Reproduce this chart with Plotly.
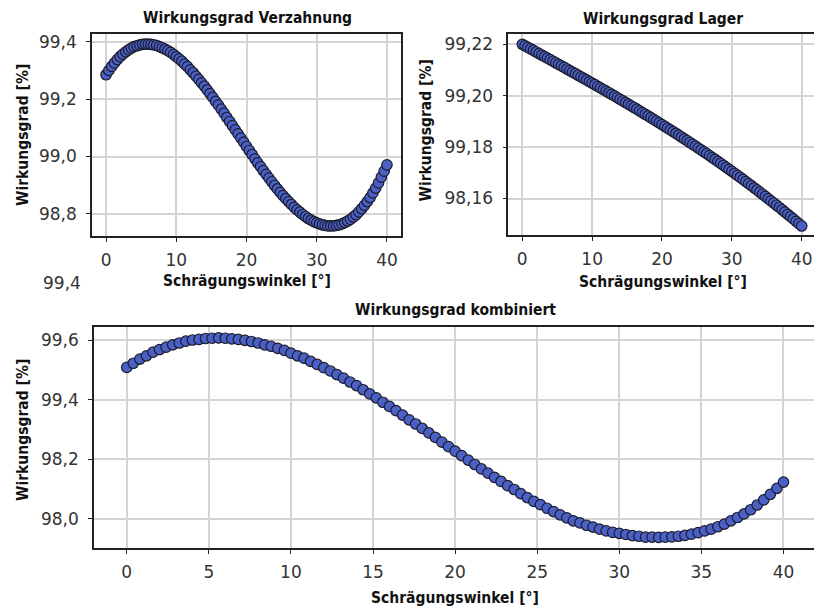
import plotly.graph_objects as go

# Schrägungswinkel [°]
winkel = [
    0.0, 0.4, 0.8, 1.2, 1.6, 2.0, 2.4, 2.8, 3.2, 3.6,
    4.0, 4.4, 4.8, 5.2, 5.6, 6.0, 6.4, 6.8, 7.2, 7.6,
    8.0, 8.4, 8.8, 9.2, 9.6, 10.0, 10.4, 10.8, 11.2, 11.6,
    12.0, 12.4, 12.8, 13.2, 13.6, 14.0, 14.4, 14.8, 15.2, 15.6,
    16.0, 16.4, 16.8, 17.2, 17.6, 18.0, 18.4, 18.8, 19.2, 19.6,
    20.0, 20.4, 20.8, 21.2, 21.6, 22.0, 22.4, 22.8, 23.2, 23.6,
    24.0, 24.4, 24.8, 25.2, 25.6, 26.0, 26.4, 26.8, 27.2, 27.6,
    28.0, 28.4, 28.8, 29.2, 29.6, 30.0, 30.4, 30.8, 31.2, 31.6,
    32.0, 32.4, 32.8, 33.2, 33.6, 34.0, 34.4, 34.8, 35.2, 35.6,
    36.0, 36.4, 36.8, 37.2, 37.6, 38.0, 38.4, 38.8, 39.2, 39.6,
    40.0,
]

# Wirkungsgrad Verzahnung [%]
eta_verzahnung = [
    99.285, 99.300, 99.314, 99.326, 99.338, 99.348, 99.357, 99.365, 99.372, 99.378,
    99.383, 99.386, 99.389, 99.391, 99.392, 99.392, 99.391, 99.389, 99.387, 99.383,
    99.379, 99.374, 99.369, 99.363, 99.356, 99.348, 99.340, 99.332, 99.322, 99.313,
    99.302, 99.292, 99.280, 99.269, 99.257, 99.245, 99.232, 99.219, 99.206, 99.192,
    99.179, 99.165, 99.151, 99.136, 99.122, 99.108, 99.093, 99.079, 99.064, 99.050,
    99.035, 99.021, 99.007, 98.992, 98.978, 98.965, 98.951, 98.938, 98.925, 98.912,
    98.899, 98.887, 98.875, 98.864, 98.853, 98.843, 98.833, 98.823, 98.814, 98.806,
    98.798, 98.791, 98.784, 98.778, 98.773, 98.769, 98.765, 98.762, 98.760, 98.758,
    98.758, 98.758, 98.760, 98.762, 98.765, 98.770, 98.775, 98.781, 98.789, 98.797,
    98.807, 98.818, 98.830, 98.843, 98.857, 98.873, 98.890, 98.908, 98.928, 98.949,
    98.971,
]

# Wirkungsgrad Lager [%]
eta_lager = [
    99.22000, 99.21940, 99.21881, 99.21821, 99.21761, 99.21701, 99.21641, 99.21582, 99.21522, 99.21462,
    99.21402, 99.21342, 99.21282, 99.21221, 99.21161, 99.21101, 99.21040, 99.20980, 99.20919, 99.20858,
    99.20797, 99.20736, 99.20675, 99.20613, 99.20552, 99.20490, 99.20428, 99.20366, 99.20304, 99.20242,
    99.20179, 99.20116, 99.20053, 99.19990, 99.19927, 99.19863, 99.19799, 99.19735, 99.19671, 99.19606,
    99.19541, 99.19476, 99.19411, 99.19345, 99.19279, 99.19213, 99.19146, 99.19079, 99.19012, 99.18945,
    99.18877, 99.18809, 99.18740, 99.18672, 99.18603, 99.18533, 99.18463, 99.18393, 99.18322, 99.18251,
    99.18180, 99.18108, 99.18036, 99.17963, 99.17890, 99.17817, 99.17743, 99.17669, 99.17594, 99.17519,
    99.17443, 99.17367, 99.17291, 99.17214, 99.17136, 99.17058, 99.16980, 99.16901, 99.16821, 99.16741,
    99.16660, 99.16579, 99.16498, 99.16416, 99.16333, 99.16250, 99.16166, 99.16081, 99.15996, 99.15911,
    99.15825, 99.15738, 99.15651, 99.15563, 99.15474, 99.15385, 99.15295, 99.15205, 99.15114, 99.15022,
    99.14930,
]

# Wirkungsgrad kombiniert [%]
eta_kombiniert = [
    99.508, 99.522, 99.536, 99.547, 99.559, 99.568, 99.576, 99.584, 99.590, 99.596,
    99.600, 99.602, 99.605, 99.606, 99.607, 99.606, 99.604, 99.602, 99.599, 99.595,
    99.590, 99.584, 99.579, 99.572, 99.565, 99.556, 99.547, 99.539, 99.528, 99.518,
    99.507, 99.496, 99.484, 99.472, 99.459, 99.447, 99.433, 99.419, 99.406, 99.391,
    99.377, 99.363, 99.348, 99.332, 99.318, 99.303, 99.288, 99.273, 99.257, 99.242,
    99.227, 99.212, 99.197, 99.182, 99.167, 99.153, 99.139, 99.125, 99.111, 99.098,
    99.084, 99.071, 99.058, 99.047, 99.035, 99.024, 99.013, 99.003, 98.993, 98.986,
    98.978, 98.972, 98.965, 98.959, 98.954, 98.951, 98.947, 98.943, 98.941, 98.938,
    98.938, 98.937, 98.938, 98.939, 98.941, 98.944, 98.948, 98.953, 98.959, 98.965,
    98.973, 98.982, 98.993, 99.004, 99.016, 99.030, 99.046, 99.063, 99.082, 99.102,
    99.123,
]

# tick values / labels
x_ticks_top = [0, 10, 20, 30, 40]
x_ticks_bottom = [0, 5, 10, 15, 20, 25, 30, 35, 40]
y_ticks_verz = [98.8, 99.0, 99.2, 99.4]
y_text_verz = ["98,8", "99,0", "99,2", "99,4"]
y_ticks_lager = [99.16, 99.18, 99.20, 99.22]
y_text_lager = ["98,16", "99,18", "99,20", "99,22"]
y_ticks_komb = [99.0, 99.2, 99.4, 99.6]
y_text_komb = ["98,0", "98,2", "99,4", "99,6"]

# figure fills the whole window (page margin removed after drawing)
W, H = 814, 611
def fx(px):
    return px / W
def fy(py):
    return 1 - py / H

TICKFONT = dict(family="DejaVu Sans", size=17, color="#333333")
TITLEFONT = dict(family="DejaVu Sans Condensed, DejaVu Sans", size=15.5, color="#111111", weight="bold")
FILL = "#4a60c4"
EDGE = "#1b1b2b"
GRID = "#d4d4d4"
FRAME = "#222222"

fig = go.Figure()

marker = dict(size=10.5, color=FILL, line=dict(color=EDGE, width=1.2))
fig.add_trace(go.Scatter(x=winkel, y=eta_verzahnung, mode="markers", marker=marker,
                         xaxis="x", yaxis="y", showlegend=False))
fig.add_trace(go.Scatter(x=winkel, y=eta_lager, mode="markers", marker=marker,
                         xaxis="x2", yaxis="y2", showlegend=False))
fig.add_trace(go.Scatter(x=winkel, y=eta_kombiniert, mode="markers", marker=marker,
                         xaxis="x3", yaxis="y3", showlegend=False))

def xax(domain, rng, ticks, anchor):
    return dict(domain=domain, range=rng, tickvals=ticks, ticktext=[str(t) for t in ticks],
                anchor=anchor, showgrid=True, gridcolor=GRID, gridwidth=1.5,
                showline=True, linecolor=FRAME, linewidth=1.5, mirror=True,
                ticks="outside", ticklen=4, tickwidth=1, tickcolor=FRAME,
                tickfont=TICKFONT, zeroline=False, ticklabelstandoff=4, automargin=False,
                ticklabeloverflow="allow")

def yax(domain, rng, ticks, text, anchor, mirror):
    return dict(domain=domain, range=rng, tickvals=ticks, ticktext=text,
                anchor=anchor, showgrid=True, gridcolor=GRID, gridwidth=1.5,
                showline=True, linecolor=FRAME, linewidth=1.5, mirror=mirror,
                ticks="outside", ticklen=4, tickwidth=1, tickcolor=FRAME,
                tickfont=TICKFONT, zeroline=False, ticklabelstandoff=6, automargin=False)

fig.update_layout(
    width=W, height=H,
    margin=dict(l=0, r=0, t=0, b=0),
    paper_bgcolor="white", plot_bgcolor="white",
    xaxis=xax([fx(92), fx(401)], [-2, 42], x_ticks_top, "y"),
    yaxis=yax([fy(236), fy(34)], [98.723, 99.427], y_ticks_verz, y_text_verz, "x", True),
    xaxis2=xax([fx(508.3), 1.0], [-2, 41.76], x_ticks_top, "y2"),
    yaxis2=yax([fy(235), fy(34.3)], [99.1458, 99.2239], y_ticks_lager, y_text_lager, "x2", False),
    xaxis3=xax([fx(93.9), 1.0], [-2, 41.86], x_ticks_bottom, "y3"),
    yaxis3=yax([fy(548.3), fy(326.7)], [98.9006, 99.6447], y_ticks_komb, y_text_komb, "x3", False),
)

ann = []
def label(text, px, py, font, angle=0):
    ann.append(dict(text=text, x=fx(px), y=fy(py), xref="paper", yref="paper",
                    showarrow=False, font=font, textangle=angle,
                    xanchor="center", yanchor="middle"))

label("Wirkungsgrad Verzahnung", 247, 18, TITLEFONT)
label("Wirkungsgrad Lager", 663, 19, TITLEFONT)
label("Wirkungsgrad kombiniert", 455, 310, TITLEFONT)
label("Schrägungswinkel [°]", 247, 281, TITLEFONT)
label("Schrägungswinkel [°]", 663, 282, TITLEFONT)
label("Schrägungswinkel [°]", 455, 598, TITLEFONT)
label("Wirkungsgrad [%]", 23, 135, TITLEFONT, -90)
label("Wirkungsgrad [%]", 425.5, 131, TITLEFONT, -90)
label("Wirkungsgrad [%]", 23, 430, TITLEFONT, -90)
label("99,4", 62, 283, TICKFONT)

fig.update_layout(annotations=ann)
fig.write_html(
    "out.html",
    default_width=f"{W}px",
    default_height=f"{H}px",
    config={"displayModeBar": False},
    post_script="document.body.style.margin='0';document.body.style.overflow='hidden';",
)
